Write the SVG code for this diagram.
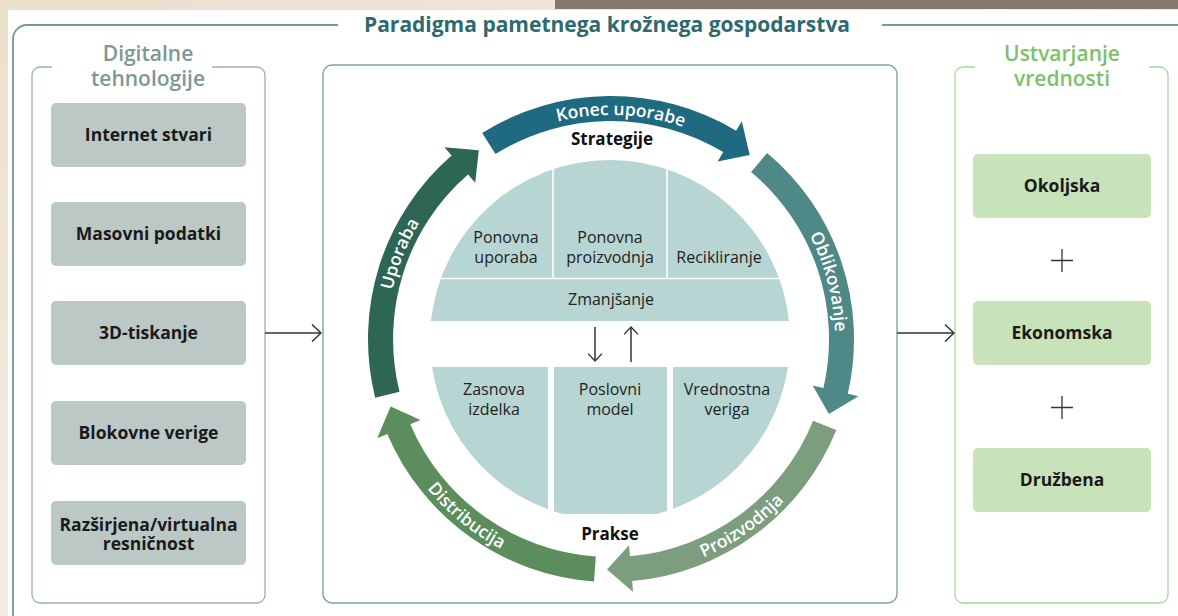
<svg xmlns="http://www.w3.org/2000/svg" width="1178" height="616" viewBox="0 0 1178 616">
<defs>
<style>
.f{font-family:"Open Sans","Noto Sans","DejaVu Sans",sans-serif}
.ttl{font-size:21px;font-weight:700;fill:#2e6a6d;text-anchor:middle}
.ptl{font-size:21px;font-weight:600;text-anchor:middle}
.box{font-size:17.5px;font-weight:700;fill:#1a1a1a;text-anchor:middle}
.in{font-size:16px;fill:#222;text-anchor:middle}
.lbl{font-size:17px;font-weight:700;fill:#111;text-anchor:middle}
.arc{font-size:17.5px;font-weight:600;fill:#fff;text-anchor:middle}
.gbox{fill:#bcc8c6}
.vbox{fill:#c8e2b9}
.disc{fill:#b7d5d2}
.con{stroke:#333;stroke-width:1.5;fill:none}
</style>
<linearGradient id="topg" x1="0" y1="0" x2="1" y2="0">
<stop offset="0" stop-color="#eadfce"/>
<stop offset="0.6" stop-color="#efe6da"/>
<stop offset="0.85" stop-color="#f3eee8"/>
<stop offset="1" stop-color="#ece4d9"/>
</linearGradient>
<linearGradient id="leftg" x1="0" y1="0" x2="0" y2="1">
<stop offset="0" stop-color="#ece0c9"/>
<stop offset="1" stop-color="#f4ece6"/>
</linearGradient>
<clipPath id="botclip"><rect x="400" y="360" width="420" height="154"/></clipPath>
<marker id="ah" viewBox="0 0 11 18" refX="10" refY="9" markerWidth="11" markerHeight="18" markerUnits="userSpaceOnUse" orient="auto">
<path d="M1,0.5 L10,9 L1,17.5" fill="none" stroke="#333" stroke-width="1.5"/>
</marker>
<marker id="ahs" viewBox="0 0 11 18" refX="10" refY="9" markerWidth="9" markerHeight="15" markerUnits="userSpaceOnUse" orient="auto">
<path d="M1,0.5 L10,9 L1,17.5" fill="none" stroke="#333" stroke-width="1.7"/>
</marker>
<path id="cw" d="M611,563 A224,224 0 1 1 611,115 A224,224 0 1 1 611,563"/>
<path id="ccw" d="M611,102 A237,237 0 1 0 611,576 A237,237 0 1 0 611,102"/>
</defs>

<g id="background">
<rect x="0" y="0" width="1178" height="616" fill="#ffffff"/>
<rect x="0" y="0" width="1178" height="10" fill="url(#topg)"/>
<rect x="555" y="0" width="623" height="9" fill="#857870"/>
<rect x="0" y="0" width="8" height="616" fill="url(#leftg)"/>
</g>

<g id="frame" fill="none" stroke="#6f9b9c" stroke-width="1.8">
<path d="M13,616 V39 A14,14 0 0 1 27,25 H338"/>
<path d="M882,25 H1178"/>
</g>
<text class="f ttl" x="607" y="32">Paradigma pametnega krožnega gospodarstva</text>

<g id="panel-digital">
<path d="M52,67 H40 A8,8 0 0 0 32,75 V595 A8,8 0 0 0 40,603 H257 A8,8 0 0 0 265,595 V75 A8,8 0 0 0 257,67 H212" fill="none" stroke="#9bb1ae" stroke-width="1.3"/>
<text class="f ptl" fill="#7e9893" x="148" y="61">Digitalne</text>
<text class="f ptl" fill="#7e9893" x="148" y="86">tehnologije</text>
</g>

<g id="node-iot"><rect class="gbox" x="51" y="103" width="195" height="64" rx="5"/><text class="f box" x="148.5" y="141">Internet stvari</text></g>
<g id="node-bigdata"><rect class="gbox" x="51" y="202" width="195" height="64" rx="5"/><text class="f box" x="148.5" y="240">Masovni podatki</text></g>
<g id="node-3d"><rect class="gbox" x="51" y="301" width="195" height="64" rx="5"/><text class="f box" x="148.5" y="339">3D-tiskanje</text></g>
<g id="node-blockchain"><rect class="gbox" x="51" y="401" width="195" height="64" rx="5"/><text class="f box" x="148.5" y="439">Blokovne verige</text></g>
<g id="node-xr"><rect class="gbox" x="51" y="501" width="195" height="64" rx="5"/><text class="f box" x="148.5" y="531">Razširjena/virtualna</text><text class="f box" x="148.5" y="550">resničnost</text></g>

<g id="panel-paradigm">
<rect x="323" y="65" width="574" height="538" rx="9" fill="none" stroke="#7ea3a6" stroke-width="1.4"/>
</g>

<g id="node-konec"><path d="M482.2,132.9 A243,243 0 0 1 736.1,130.7 L741.8,121.3 L749.7,154.9 L717.6,161.6 L723.3,152.1 A218,218 0 0 0 495.5,154.1 Z" fill="#1f6a80"/><text class="f arc"><textPath href="#cw" startOffset="50.7%">Konec uporabe</textPath></text></g>
<g id="node-oblikovanje"><path d="M767.2,152.9 A243,243 0 0 1 847.8,393.7 L858.5,396.2 L828.9,414.1 L812.7,385.6 L823.4,388.1 A218,218 0 0 0 751.1,172.0 Z" fill="#4f8987"/><text class="f arc"><textPath href="#cw" startOffset="70.9%">Oblikovanje</textPath></text></g>
<g id="node-proizvodnja"><path d="M836.3,430.0 A243,243 0 0 1 632.2,581.1 L633.1,592.0 L607.0,569.5 L629.0,545.2 L630.0,556.2 A218,218 0 0 0 813.1,420.7 Z" fill="#7c9e7e"/><text class="f arc"><textPath href="#ccw" startOffset="59.7%">Proizvodnja</textPath></text></g>
<g id="node-distribucija"><path d="M594.0,581.4 A243,243 0 0 1 387.3,433.9 L377.2,438.2 L390.6,406.4 L420.5,419.9 L410.3,424.2 A218,218 0 0 0 595.8,556.5 Z" fill="#5b8d5d"/><text class="f arc"><textPath href="#ccw" startOffset="39.1%">Distribucija</textPath></text></g>
<g id="node-uporaba"><path d="M375.2,397.8 A243,243 0 0 1 451.6,155.6 L444.4,147.3 L478.8,150.2 L475.2,182.8 L468.0,174.5 A218,218 0 0 0 399.5,391.7 Z" fill="#2e6655"/><text class="f arc"><textPath href="#cw" startOffset="31.1%">Uporaba</textPath></text></g>

<g id="node-strategije">
<text class="f lbl" x="612" y="145">Strategije</text>
<path class="disc" d="M431,321 A180,180 0 0 1 789,321 Z"/>
<g stroke="#ffffff" stroke-width="1.6">
<line x1="425" y1="278.5" x2="795" y2="278.5"/>
<line x1="553" y1="150" x2="553" y2="278.5"/>
<line x1="667" y1="150" x2="667" y2="278.5"/>
</g>
<text class="f in" x="506" y="243">Ponovna</text>
<text class="f in" x="506" y="263">uporaba</text>
<text class="f in" x="610" y="243">Ponovna</text>
<text class="f in" x="610" y="263">proizvodnja</text>
<text class="f in" x="719" y="263">Recikliranje</text>
<text class="f in" x="611" y="305">Zmanjšanje</text>
</g>

<g id="node-prakse">
<path class="disc" clip-path="url(#botclip)" d="M432,367 H788 A180,180 0 0 1 432,367 Z"/>
<rect x="548" y="360" width="6" height="170" fill="#ffffff"/>
<rect x="667" y="360" width="6" height="170" fill="#ffffff"/>
<text class="f in" x="494" y="395">Zasnova</text>
<text class="f in" x="494" y="415">izdelka</text>
<text class="f in" x="610" y="395">Poslovni</text>
<text class="f in" x="610" y="415">model</text>
<text class="f in" x="727" y="395">Vrednostna</text>
<text class="f in" x="727" y="415">veriga</text>
<text class="f lbl" x="610" y="540">Prakse</text>
</g>

<g id="panel-value">
<path d="M975,67 H963 A8,8 0 0 0 955,75 V595 A8,8 0 0 0 963,603 H1160 A8,8 0 0 0 1168,595 V75 A8,8 0 0 0 1160,67 H1149" fill="none" stroke="#a8d69a" stroke-width="1.3"/>
<text class="f ptl" fill="#7dc06a" x="1062" y="61">Ustvarjanje</text>
<text class="f ptl" fill="#7dc06a" x="1062" y="86">vrednosti</text>
</g>
<g id="node-okoljska"><rect class="vbox" x="973" y="154" width="178" height="64" rx="5"/><text class="f box" x="1062" y="192">Okoljska</text></g>
<g id="node-ekonomska"><rect class="vbox" x="973" y="301" width="178" height="64" rx="5"/><text class="f box" x="1062" y="339">Ekonomska</text></g>
<g id="node-druzbena"><rect class="vbox" x="973" y="448" width="178" height="64" rx="5"/><text class="f box" x="1062" y="486">Družbena</text></g>
<g id="plus" stroke="#333" stroke-width="1.3" fill="none">
<path d="M1051,260.5 H1073 M1062,249 V272"/>
<path d="M1051,407.5 H1073 M1062,396 V419"/>
</g>

<g id="connectors">
<line class="con" x1="265" y1="333" x2="321" y2="333" marker-end="url(#ah)"/>
<line class="con" x1="897" y1="333" x2="954" y2="333" marker-end="url(#ah)"/>
<line class="con" x1="595" y1="327" x2="595" y2="361" marker-end="url(#ahs)"/>
<line class="con" x1="631" y1="362" x2="631" y2="327" marker-end="url(#ahs)"/>
</g>
</svg>
